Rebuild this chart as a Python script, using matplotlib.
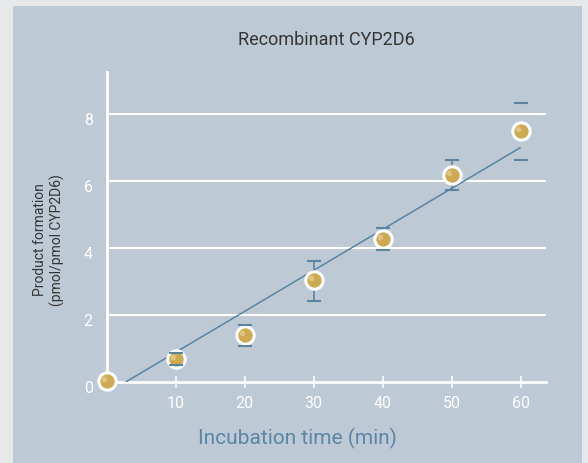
import matplotlib
matplotlib.use("Agg")
import matplotlib.pyplot as plt
from matplotlib.patches import Rectangle
from matplotlib.transforms import ScaledTranslation
import numpy as np

plt.rcParams['font.family'] = ['Roboto', 'DejaVu Sans']

# ---- data ----
time_min = [0, 10, 20, 30, 40, 50, 60]
product = [0.03, 0.69, 1.40, 3.04, 4.27, 6.18, 7.48]
err_up = [0.0, 0.17, 0.30, 0.57, 0.32, 0.43, 0.85]
err_down = [0.0, 0.17, 0.32, 0.61, 0.32, 0.44, 0.85]
fit_x = [2.75, 60]
fit_y = [0.0, 7.0]
xticks = [10, 20, 30, 40, 50, 60]
yticks = [0, 2, 4, 6, 8]
title = "Recombinant CYP2D6"
xlabel = "Incubation time (min)"
ylabel = "Product formation\n(pmol/pmol CYP2D6)"

# ---- styles ----
outer_bg = '#e6e8ea'
panel_bg = '#bdc9d5'
line_col = '#5a84a0'
gold = '#cda94f'
highlight = '#e4cd8f'
label_col = '#5b87a5'
text_dark = '#353535'

fig = plt.figure(figsize=(5.88, 4.64), dpi=100)
fig.patch.set_facecolor(outer_bg)
bg = fig.add_axes([0, 0, 1, 1], zorder=-5)
bg.set_axis_off()
bg.set_xlim(0, 1)
bg.set_ylim(0, 1)
bg.add_patch(Rectangle((13/588, 0), (582-13)/588, 1-7/464,
                       facecolor=panel_bg, edgecolor='none'))

ax = fig.add_axes([106.7/588, 1-383/464, (546-106.7)/588, (383-73)/464], zorder=1)
ax.set_facecolor('none')
ax.set_xlim(0, 63.67)
ax.set_ylim(0, 9.25)

for s in ['top', 'right']:
    ax.spines[s].set_visible(False)
ax.spines['left'].set_color('white')
ax.spines['left'].set_linewidth(2)
ax.spines['bottom'].set_color('white')
ax.spines['bottom'].set_linewidth(2)
ax.spines['left'].set_zorder(1)
ax.spines['bottom'].set_zorder(1)

ax.set_xticks(xticks)
ax.set_xticklabels([str(v) for v in xticks])
ax.set_yticks(yticks)
ax.set_yticklabels([str(v) for v in yticks])
ax.tick_params(axis='x', direction='inout', length=9, width=1.1, color='white',
               labelcolor='white', labelsize=11.5, pad=5)
ax.tick_params(axis='y', length=0, labelcolor='white', labelsize=11.5, pad=10)
off = ScaledTranslation(0, -3/72, fig.dpi_scale_trans)
for lab in ax.get_yticklabels():
    lab.set_transform(lab.get_transform() + off)

for v in yticks[1:]:
    ax.axhline(v, color='white', lw=1.5, zorder=1)

# regression line
ax.plot(fit_x, fit_y, color=line_col, lw=1.1, zorder=2, solid_capstyle='butt')

# error bars: stems (points 1..5), caps (points 1..6) on top of markers
eb = ax.errorbar(time_min[1:6], product[1:6],
                 yerr=[err_down[1:6], err_up[1:6]],
                 fmt='none', ecolor=line_col, elinewidth=1.2, capsize=0, zorder=2.5)
eb2 = ax.errorbar(time_min[1:], product[1:], yerr=[err_down[1:], err_up[1:]],
                  fmt='none', ecolor=line_col, elinewidth=0, capsize=5,
                  capthick=1.5, zorder=5)
for c in eb2[1]:
    c.set_zorder(5)
    c.set_clip_on(False)
for c in eb2[2]:
    c.set_visible(False)

# markers
ax.plot(time_min, product, 'o', ms=12.5, mfc=gold, mec='white', mew=2.2,
        zorder=4, clip_on=False)
hl = ScaledTranslation(-1.6/72, 1.6/72, fig.dpi_scale_trans)
ax.plot(time_min, product, 'o', ms=4, mfc=highlight, mec='none',
        zorder=4.2, clip_on=False, transform=ax.transData + hl, alpha=0.8)

fig.text(326/588, 1-40/464, title, ha='center', va='center', fontsize=13,
         color=text_dark)
fig.text(297/588, 1-438/464, xlabel, ha='center', va='center', fontsize=15,
         color=label_col)
fig.text(49/588, 1-240/464, ylabel, ha='center', va='center', fontsize=10,
         color=text_dark, rotation=90, linespacing=1.25)

fig.savefig('out.png', dpi=100, facecolor=fig.get_facecolor())
